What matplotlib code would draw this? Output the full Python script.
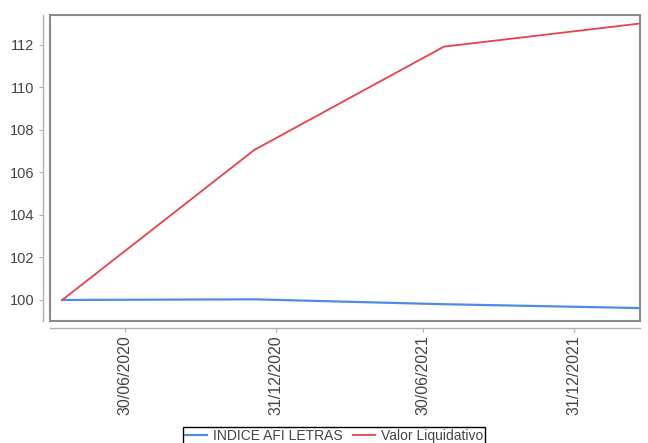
import numpy as np
import pandas as pd
import matplotlib
matplotlib.use("Agg")
import matplotlib.pyplot as plt
import matplotlib.dates as mdates
from matplotlib.patches import Rectangle

# Dados
datas = pd.to_datetime(["2020-04-14", "2020-12-05", "2021-07-25", "2022-03-20"])
indice_afi = [100.0, 100.03, 99.8, 99.62]
valor_liq = [100.0, 107.06, 111.92, 113.0]
ticks_x = pd.to_datetime(["2020-06-30", "2020-12-31", "2021-06-30", "2021-12-31"])
ticks_y = [100, 102, 104, 106, 108, 110, 112]

plt.rcParams['font.family'] = ['Liberation Sans', 'DejaVu Sans']

fig = plt.figure(figsize=(6.48, 4.43), dpi=100)
ax = fig.add_axes([50/648, 1 - 321/443, 590/648, 306/443])

ax.plot(datas, indice_afi, color="#4f8ae6", lw=1.6, label="INDICE AFI LETRAS")
ax.plot(datas, valor_liq, color="#e8404c", lw=1.3, label="Valor Liquidativo")

ax.set_xlim(pd.Timestamp("2020-03-30"), pd.Timestamp("2022-03-22"))
ax.set_ylim(99.01, 113.41)
ax.set_xticks(ticks_x)
ax.xaxis.set_major_formatter(mdates.DateFormatter("%d/%m/%Y"))
ax.set_yticks(ticks_y)

# eixos afastados do quadro (estilo JFreeChart)
for s in ["left", "bottom"]:
    ax.spines[s].set_position(("outward", 5))
    ax.spines[s].set_color("#b0b0b0")
    ax.spines[s].set_linewidth(1.0)
for s in ["top", "right"]:
    ax.spines[s].set_visible(False)
ax.add_patch(Rectangle((0, 0), 1, 1, transform=ax.transAxes, fill=False,
                       edgecolor="#8a8a8a", lw=1.5, clip_on=False, zorder=5))

ax.tick_params(axis="both", colors="#b0b0b0", labelcolor="#444444",
               labelsize=10.5, length=3, width=0.8)
ax.tick_params(axis="x", labelrotation=90, labelsize=11.5, pad=2)

fig.legend(loc="upper center", bbox_to_anchor=(334/648, 1 - 420/443), ncol=2,
           fontsize=10, frameon=True, fancybox=False, edgecolor="black",
           framealpha=1, handlelength=1.6, handletextpad=0.4, columnspacing=0.8,
           borderpad=0.15, labelcolor="#444444")

fig.savefig("out.png", dpi=100)
